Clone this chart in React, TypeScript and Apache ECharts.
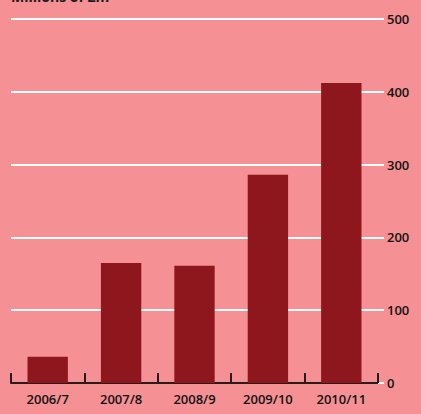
import React, { useEffect, useRef } from "react";
import * as echarts from "echarts";

const categories = ["2006/7", "2007/8", "2008/9", "2009/10", "2010/11"];
const values = [36, 165, 161, 286, 412];
const yTicks = [0, 100, 200, 300, 400, 500];
const title = "Millions of £m";

export default function App() {
  const ref = useRef<HTMLDivElement>(null);
  useEffect(() => {
    if (!ref.current) return;
    const chart = echarts.init(ref.current, null, { renderer: "svg" });
    chart.setOption({
      animation: false,
      backgroundColor: "#F59094",
      textStyle: { fontFamily: "Open Sans" },
      graphic: [
        {
          type: "text",
          left: 11,
          top: -11,
          style: { text: title, fontSize: 14, fontWeight: "bold", fill: "#1a1a1a", fontFamily: "Open Sans" },
        },
      ],
      grid: { left: 11, right: 43, top: 19, bottom: 31, containLabel: false },
      xAxis: {
        type: "category",
        data: categories,
        axisLine: { show: true, lineStyle: { color: "#2a1a1a", width: 2 } },
        axisTick: { show: true, inside: true, length: 10, lineStyle: { color: "#2a1a1a", width: 2 } },
        axisLabel: { color: "#111111", fontSize: 13, fontWeight: 600, margin: 9, fontFamily: "Open Sans", letterSpacing: -0.6 },
      },
      yAxis: {
        type: "value",
        position: "right",
        min: yTicks[0],
        max: yTicks[yTicks.length - 1],
        interval: 100,
        axisLine: { show: false },
        axisTick: { show: true, length: 6, lineStyle: { color: "#ffffff", width: 2 } },
        axisLabel: { color: "#111111", fontSize: 13, fontWeight: 600, margin: 9, fontFamily: "Open Sans", letterSpacing: -0.4 },
        splitLine: { show: true, lineStyle: { color: "#ffffff", width: 2 } },
      },
      series: [
        {
          type: "bar",
          data: values,
          barWidth: "55%",
          itemStyle: { color: "#8E171D" },
        },
      ],
    });
    return () => chart.dispose();
  }, []);
  return <div ref={ref} style={{ width: 421, height: 414, position: "absolute", left: 0, top: 0 }} />;
}
